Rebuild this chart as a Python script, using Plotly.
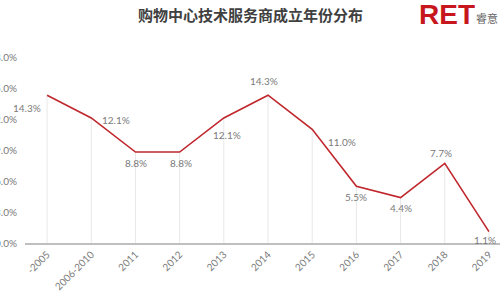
import plotly.graph_objects as go

categories = ["-2005", "2006-2010", "2011", "2012", "2013", "2014", "2015", "2016", "2017", "2018", "2019"]
values = [14.3, 12.1, 8.8, 8.8, 12.1, 14.3, 11.0, 5.5, 4.4, 7.7, 1.1]
y_ticks = [0, 3, 6, 9, 12, 15, 18]
y_tick_labels = ["0.0%", "3.0%", "6.0%", "9.0%", "12.0%", "15.0%", "18.0%"]

# label placement (xanchor, xshift, yshift)
label_pos = [
    ("right", -4, -13),
    ("left", 9, -2),
    ("center", 1, -11),
    ("center", 1, -11),
    ("center", 3, -17),
    ("center", -4, 14),
    ("left", 14, -13),
    ("center", 0, -11),
    ("center", 0, -10),
    ("center", -4, 10),
    ("center", -4, -8),
]

fig = go.Figure()
fig.add_trace(go.Scatter(
    x=categories, y=values, mode="lines",
    line=dict(color="#c0272d", width=1.6),
    error_y=dict(type="data", symmetric=False, array=[0] * len(values),
                 arrayminus=values, width=0, thickness=1, color="#e8e8e8"),
    hoverinfo="skip", showlegend=False,
))

# title and logo in paper pixels -> convert to paper fraction
plot_w, plot_h = 475, 186
def px(xp):
    return (xp - 25) / plot_w
def py(yp):
    return (243 - yp) / plot_h

for i, (v, (xa, xs, ys)) in enumerate(zip(values, label_pos)):
    fig.add_annotation(
        x=i, y=v, xref="x", yref="y", text=f"{v:.1f}%", showarrow=False,
        xanchor=xa, yanchor="middle", xshift=xs, yshift=ys,
        font=dict(family="Lato, Noto Sans", size=10, color="#7a7a7a"),
    )

fig.add_annotation(
    x=px(250), y=py(15), xref="paper", yref="paper", text="<b>购物中心技术服务商成立年份分布</b>",
    showarrow=False, xanchor="center", yanchor="middle",
    font=dict(family="Noto Sans CJK SC", size=15, color="#404040"),
)
fig.add_annotation(x=px(447), y=py(14), xref="paper", yref="paper", text="<b>RET</b>",
                   showarrow=False, xanchor="center", yanchor="middle",
                   font=dict(family="Liberation Sans, Arial", size=28, color="#c8161d"))
fig.add_annotation(x=px(487), y=py(18), xref="paper", yref="paper", text="睿意",
                   showarrow=False, xanchor="center", yanchor="middle",
                   font=dict(family="Noto Sans CJK SC", size=11, color="#666666"))

fig.update_layout(
    width=500, height=300,
    margin=dict(l=25, r=0, t=57, b=57),
    paper_bgcolor="white", plot_bgcolor="white",
    xaxis=dict(
        type="category", range=[-0.5, 10.25], showgrid=False, automargin=False,
        showline=True, linecolor="#bfbfbf", linewidth=1.5,
        ticks="", tickangle=-45,
        tickfont=dict(family="Lato, Noto Sans", size=10, color="#7a7a7a"),
    ),
    yaxis=dict(
        range=[0, 18], tickvals=y_ticks, ticktext=y_tick_labels, automargin=False,
        showgrid=False, zeroline=False, showline=False, ticks="",
        ticklabelstandoff=7,
        tickfont=dict(family="Lato, Noto Sans", size=10, color="#7a7a7a"),
    ),
)

fig.write_html("out.html")
